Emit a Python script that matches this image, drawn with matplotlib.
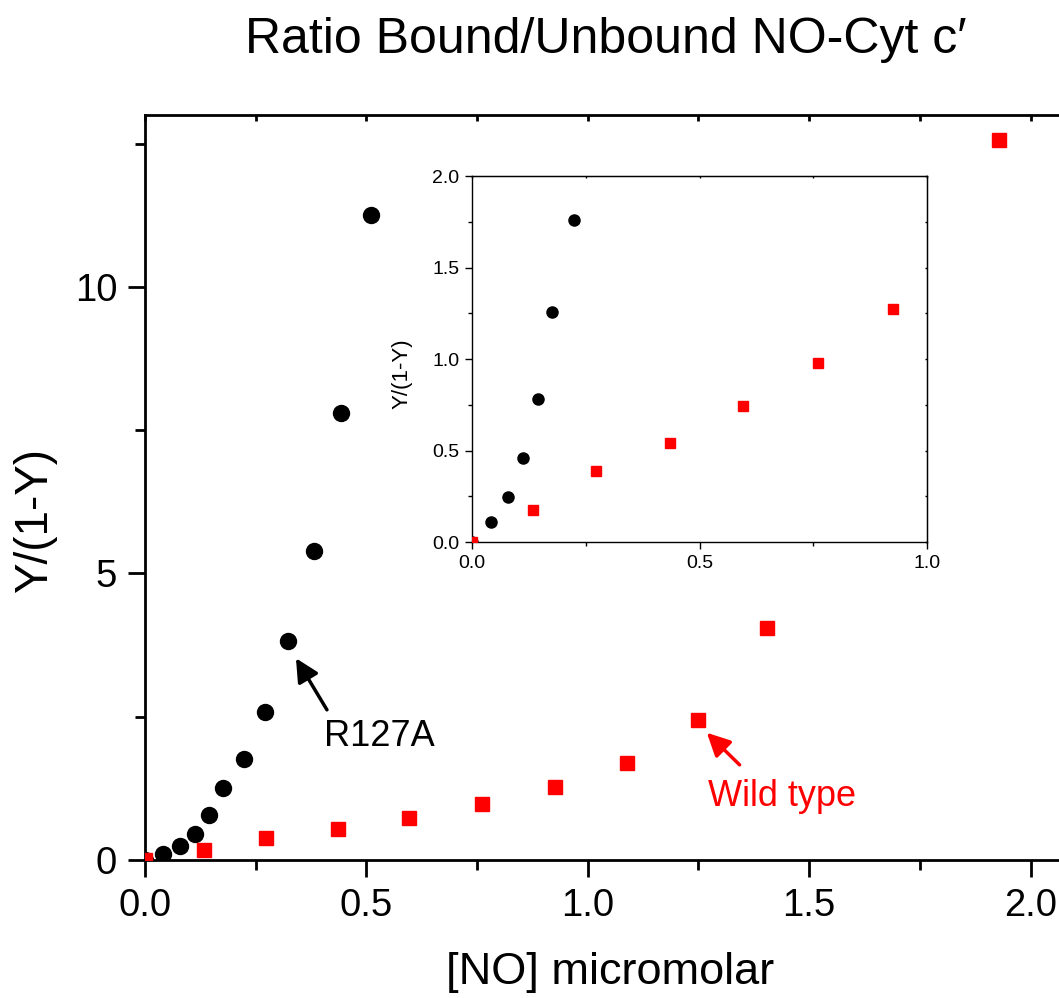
import matplotlib.pyplot as plt
from matplotlib.ticker import MultipleLocator

plt.rcParams["font.family"] = ["Liberation Sans", "DejaVu Sans"]

# R127A mutant (black circles)
no_r127a = [0.0, 0.041, 0.080, 0.113, 0.144, 0.176, 0.224, 0.272, 0.323, 0.381, 0.442, 0.510]
ratio_r127a = [0.0, 0.108, 0.246, 0.457, 0.781, 1.255, 1.758, 2.58, 3.82, 5.40, 7.80, 11.25]

# wild type (red squares)
no_wt = [0.0, 0.133, 0.273, 0.436, 0.596, 0.761, 0.926, 1.088, 1.248, 1.404, 1.929]
ratio_wt = [0.0, 0.173, 0.386, 0.539, 0.741, 0.976, 1.276, 1.69, 2.44, 4.05, 12.57]

INSET_XMAX = 1.0
INSET_YMAX = 2.0


def style_axes(ax, lw, major_len, minor_len, pad, labelsize):
    for s in ax.spines.values():
        s.set_linewidth(lw)
    ax.tick_params(which="major", direction="out", length=major_len, width=lw,
                   pad=pad, labelsize=labelsize, top=False, right=False)
    ax.tick_params(which="minor", direction="out", length=minor_len, width=lw,
                   top=False, right=False)
    # inward ticks on top and right
    top = ax.secondary_xaxis("top")
    right = ax.secondary_yaxis("right")
    for sec in (top, right):
        sec.tick_params(which="both", direction="in", length=minor_len * 0.6,
                        width=lw, labeltop=False, labelright=False)
    top.xaxis.set_major_locator(ax.xaxis.get_major_locator())
    top.xaxis.set_minor_locator(ax.xaxis.get_minor_locator())
    right.yaxis.set_major_locator(ax.yaxis.get_major_locator())
    right.yaxis.set_minor_locator(ax.yaxis.get_minor_locator())
    top.set_xticklabels([])
    right.set_yticklabels([])


fig = plt.figure(figsize=(10.59, 9.98), dpi=100)

ax = fig.add_axes([0.1369, 0.1383, 0.878, 0.7465])
ax.plot(no_r127a, ratio_r127a, "o", color="black", markersize=11.5, zorder=3)
ax.plot(no_wt, ratio_wt, "s", color="#ff0000", markersize=10.5, zorder=3)
ax.set_xlim(0, 2.1)
ax.set_ylim(0, 13)
ax.xaxis.set_major_locator(MultipleLocator(0.5))
ax.xaxis.set_minor_locator(MultipleLocator(0.25))
ax.yaxis.set_major_locator(MultipleLocator(5))
ax.yaxis.set_minor_locator(MultipleLocator(2.5))
ax.xaxis.set_major_formatter(plt.FormatStrFormatter("%.1f"))
style_axes(ax, 2.0, 12, 7, 8, 27.5)

ax.set_xlabel("[NO] micromolar", fontsize=32.5, labelpad=20)
fig.text(0.033, 0.478, "Y/(1-Y)", rotation=90, fontsize=33, ha="center", va="center")
fig.text(0.572, 0.96, "Ratio Bound/Unbound NO-Cyt c\u2032", fontsize=36,
         ha="center", va="center")

arrow_kw = dict(arrowstyle="-|>,head_length=0.7,head_width=0.35", lw=2.5,
                mutation_scale=20, shrinkA=0, shrinkB=0)
ax.annotate("", xy=(0.341, 3.52), xytext=(0.411, 2.62),
            arrowprops=dict(color="black", **arrow_kw))
ax.text(0.405, 2.15, "R127A", fontsize=26, color="black", va="center")
ax.annotate("", xy=(1.269, 2.22), xytext=(1.343, 1.66),
            arrowprops=dict(color="#ff0000", **arrow_kw))
ax.text(1.272, 1.10, "Wild type", fontsize=26, color="#ff0000", va="center")

# inset
axi = fig.add_axes([0.4457, 0.4569, 0.4297, 0.3667])
axi.plot(no_r127a, ratio_r127a, "o", color="black", markersize=8, zorder=3)
axi.plot(no_wt, ratio_wt, "s", color="#ff0000", markersize=7.5, zorder=3)
axi.set_xlim(0, INSET_XMAX)
axi.set_ylim(0, INSET_YMAX)
axi.xaxis.set_major_locator(MultipleLocator(0.5))
axi.xaxis.set_minor_locator(MultipleLocator(0.25))
axi.yaxis.set_major_locator(MultipleLocator(0.5))
axi.yaxis.set_minor_locator(MultipleLocator(0.25))
axi.xaxis.set_major_formatter(plt.FormatStrFormatter("%.1f"))
axi.yaxis.set_major_formatter(plt.FormatStrFormatter("%.1f"))
style_axes(axi, 1.0, 5, 3, 4, 14)
axi.set_ylabel("Y/(1-Y)", fontsize=16)
axi.yaxis.set_label_coords(-0.13, 0.46)

fig.savefig("out.png", dpi=100)
